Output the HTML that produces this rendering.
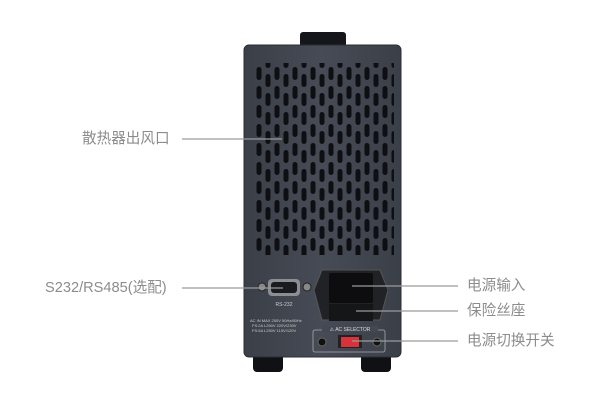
<!DOCTYPE html>
<html><head><meta charset="utf-8"><style>
html,body{margin:0;padding:0;background:#fff;width:600px;height:400px;overflow:hidden}
.t{position:absolute;font-family:"Liberation Sans","Noto Sans CJK SC",sans-serif;font-size:14.6px;color:#8c8c8c;line-height:16px;white-space:nowrap}
</style></head><body>
<svg width="600" height="400" style="position:absolute;left:0;top:0">
<defs>
<pattern id="sl" x="254" y="66" width="18" height="19" patternUnits="userSpaceOnUse">
<rect x="2.5" y="1" width="5" height="13" rx="2.5" fill="#0e0f12"/>
<rect x="11.5" y="8" width="5" height="13" rx="2.5" fill="#0e0f12"/>
<rect x="11.5" y="-11" width="5" height="13" rx="2.5" fill="#0e0f12"/>
</pattern>
<linearGradient id="pg" x1="0" x2="1"><stop offset="0" stop-color="#3a3f48"/><stop offset="0.5" stop-color="#464b55"/><stop offset="1" stop-color="#3a3f48"/></linearGradient>
</defs>
<rect x="300" y="32" width="46" height="16" rx="3" fill="#15161a"/>
<rect x="253" y="352" width="30" height="20" rx="4" fill="#101114"/>
<rect x="361" y="352" width="30" height="20" rx="4" fill="#101114"/>
<rect x="244" y="45" width="157" height="312" rx="5" fill="url(#pg)" stroke="#2a2d33"/>
<rect x="254" y="63" width="140" height="192" fill="url(#sl)"/>
<circle cx="262" cy="287" r="4" fill="#888" stroke="#222"/>
<circle cx="307" cy="287" r="4" fill="#888" stroke="#222"/>
<rect x="268" y="279" width="32" height="17" rx="4" fill="#8b8e93"/>
<rect x="271" y="282" width="26" height="11" rx="3" fill="#1a1b1e"/>
<text x="284" y="306" font-family="Liberation Sans" font-size="5" fill="#ccc" text-anchor="middle">RS-232</text>
<text x="250" y="322" font-family="Liberation Sans" font-size="4" fill="#ccc">AC IN MAX 250V  50Hz/60Hz</text>
<text x="252" y="327" font-family="Liberation Sans" font-size="4" fill="#ccc">FS:2A L250V  220V/230V</text>
<text x="252" y="332" font-family="Liberation Sans" font-size="4" fill="#ccc">FS:5A L250V  110V/120V</text>
<polygon points="322,270 380,270 388,290 380,320 322,320 314,290" fill="#202226" stroke="#555"/>
<rect x="329" y="273" width="44" height="30" rx="2" fill="#0d0d0f"/>
<rect x="329" y="304" width="44" height="17" fill="#151618"/>
<rect x="313" y="330" width="72" height="22" rx="2" fill="none" stroke="#aaa" stroke-width="0.8"/>
<rect x="322" y="326" width="56" height="6" fill="#434852"/>
<text x="350" y="331" font-family="Liberation Sans" font-size="5" fill="#ddd" text-anchor="middle">⚠ AC SELECTOR</text>
<circle cx="322" cy="342" r="4" fill="#111" stroke="#666"/>
<circle cx="377" cy="342" r="4" fill="#111" stroke="#666"/>
<rect x="338" y="335" width="24" height="13" fill="#222"/>
<rect x="341" y="337" width="18" height="10" fill="#d8323a"/>
<g stroke="#9a9a9a" stroke-width="1.2">
<line x1="182" y1="139" x2="282" y2="139"/>
<line x1="182" y1="288" x2="283" y2="288"/>
<line x1="352" y1="286" x2="458" y2="286"/>
<line x1="356" y1="311" x2="458" y2="311"/>
<line x1="352" y1="341" x2="458" y2="341"/>
</g>
</svg>
<div class="t" style="left:82px;top:131px">散热器出风口</div>
<div class="t" style="left:45px;top:280px">S232/RS485(选配)</div>
<div class="t" style="left:467px;top:278px">电源输入</div>
<div class="t" style="left:467px;top:303px">保险丝座</div>
<div class="t" style="left:467px;top:333px">电源切换开关</div>
</body></html>
